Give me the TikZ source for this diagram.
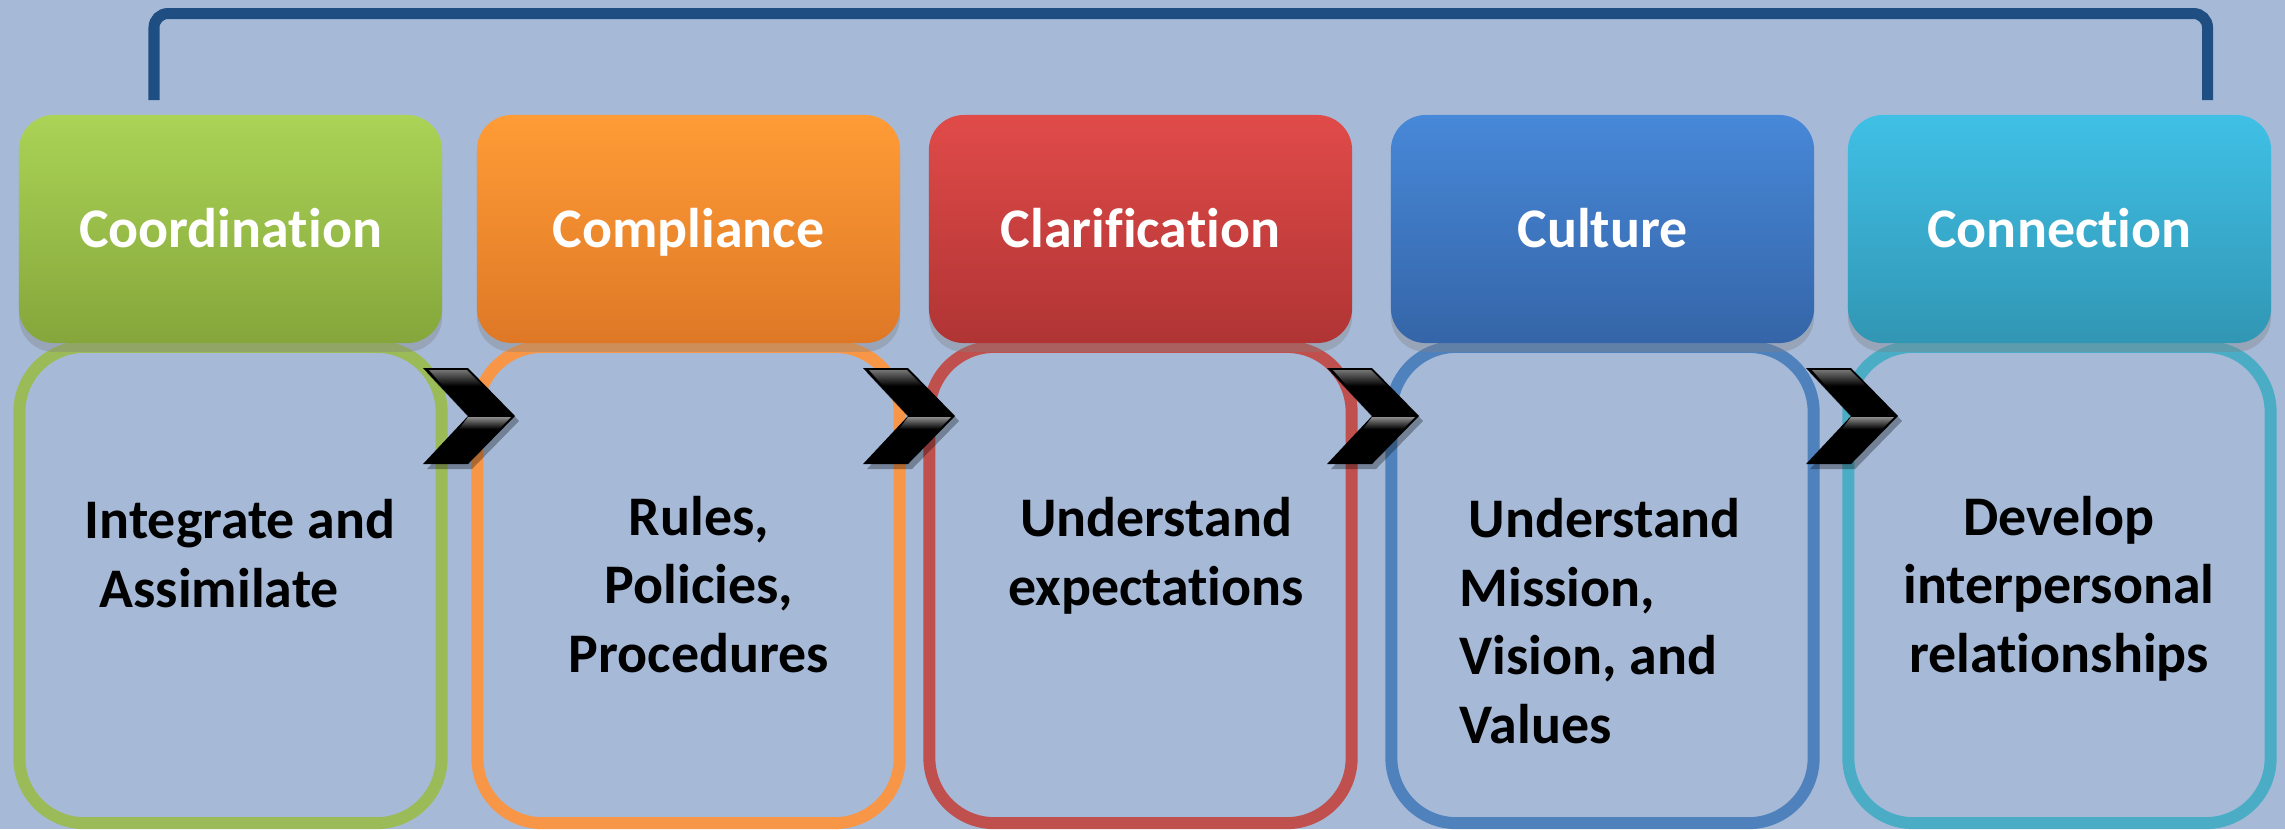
\documentclass[tikz,border=0pt]{standalone}
\usepackage{fontspec}
\setmainfont{Carlito}[Ligatures=NoCommon]
\usetikzlibrary{shadows}

\definecolor{bgblue}{HTML}{A6BAD8}
\definecolor{brkblue}{HTML}{1F4E82}
% header fills (top / bottom of the gradient) and outline colours
\definecolor{grnT}{HTML}{ABD356}\definecolor{grnB}{HTML}{85A63B}\definecolor{grnL}{HTML}{9BBB59}
\definecolor{orgT}{HTML}{FF9C36}\definecolor{orgB}{HTML}{DE7826}\definecolor{orgL}{HTML}{F79646}
\definecolor{redT}{HTML}{E04B49}\definecolor{redB}{HTML}{B03434}\definecolor{redL}{HTML}{C0504D}
\definecolor{bluT}{HTML}{4788D8}\definecolor{bluB}{HTML}{3565A8}\definecolor{bluL}{HTML}{4F81BD}
\definecolor{cynT}{HTML}{40C0E6}\definecolor{cynB}{HTML}{3196B4}\definecolor{cynL}{HTML}{4BACC6}

\newcommand\hdrfont{\fontsize{15.9pt}{19.5pt}\selectfont\bfseries}
\newcommand\bodyfont{\fontsize{15.9pt}{19.45pt}\selectfont\bfseries}

\tikzset{
  hdrbox/.style 2 args={rectangle, rounded corners=0.35cm,
    minimum width=4.23cm, minimum height=2.28cm, inner sep=0pt,
    text height=0.36cm, text depth=0pt, font=\hdrfont, text=white,
    top color=#1, bottom color=#2,
    drop shadow={shadow xshift=0pt, shadow yshift=-2.5pt, opacity=0.35}},
  outbox/.style={rectangle, draw=#1, line width=0.12cm, rounded corners=0.65cm,
    minimum width=4.22cm, minimum height=4.76cm, inner sep=0pt},
  bodytxt/.style={font=\bodyfont, inner sep=0pt, text=black},
  bracket/.style={draw=brkblue, line width=0.11cm, rounded corners=0.14cm},
  chev/.pic={
    \fill[black, opacity=0.3] (4,5) -- (49,5) -- (96,53) -- (49,101) -- (4,101) -- (49,53) -- cycle;
    \fill[black] (0,0) -- (45,0) -- (92,48) -- (45,96) -- (0,96) -- (45,48) -- cycle;
    \shade[top color=black!55, bottom color=black] (6,2) -- (44,2) -- (60,18) -- (20,18) -- cycle;
    \shade[top color=black!45, bottom color=black] (45,49) -- (88,49) -- (76,61) -- (36,61) -- cycle;
  }
}

\begin{document}
\begin{tikzpicture}[x=0.01cm, y=-0.01cm]
  \fill[bgblue] (0,0) rectangle (2285,829);
  \useasboundingbox (0,0) rectangle (2285,829);

  % bracket spanning the five stages
  \coordinate (brkL) at (154,100);
  \coordinate (brkR) at (2207.5,100);
  \draw[bracket] (brkL) -- (154,13.5) -- (2207.5,13.5) -- (brkR);

  % lower outlined boxes
  \node[outbox=grnL] (o1) at (230.5,585) {};
  \node[outbox=orgL] (o2) at (688.5,585) {};
  \node[outbox=redL] (o3) at (1140.5,585) {};
  \node[outbox=bluL] (o4) at (1602.5,585) {};
  \node[outbox=cynL] (o5) at (2059.5,585) {};

  % stage headers
  \node[hdrbox={grnT}{grnB}] (h1) at (230.5,229) {Coordination};
  \node[hdrbox={orgT}{orgB}] (h2) at (688.5,229) {Compliance};
  \node[hdrbox={redT}{redB}] (h3) at (1140.5,229) {Clarification};
  \node[hdrbox={bluT}{bluB}] (h4) at (1602.5,229) {Culture};
  \node[hdrbox={cynT}{cynB}] (h5) at (2059.5,229) {Connection};

  % chevrons between the stages
  \pic at (423,368) {chev};
  \pic at (863,368) {chev};
  \pic at (1327,368) {chev};
  \pic at (1806,368) {chev};

  % stage descriptions (anchored at the baseline of the last line)
  \node[bodytxt, anchor=base west, align=left] (t1) at (84,607)
    {Integrate and\\\hspace*{0.15cm}Assimilate};
  \node[bodytxt, anchor=base, align=center] (t2) at (699,672)
    {Rules,\\Policies,\\Procedures};
  \node[bodytxt, anchor=base, align=center] (t3) at (1156,605)
    {Understand\\expectations};
  \node[bodytxt, anchor=base west, align=left] (t4) at (1459,743)
    {\hspace*{0.09cm}Understand\\Mission,\\Vision, and\\Values};
  \node[bodytxt, anchor=base, align=center] (t5) at (2059,672)
    {Develop\\interpersonal\\relationships};
\end{tikzpicture}
\end{document}
